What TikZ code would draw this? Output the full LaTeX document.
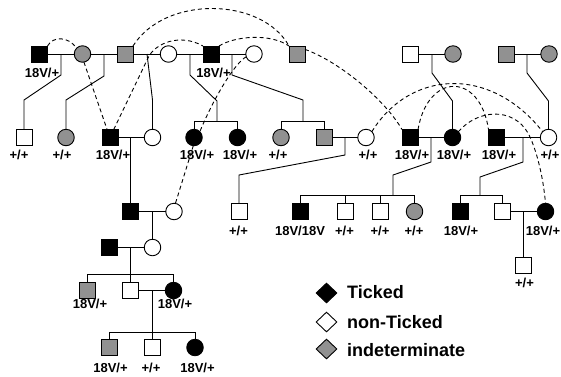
\documentclass[tikz,border=0pt]{standalone}
\usepackage{fontspec}
\setmainfont{Liberation Sans}
\usetikzlibrary{shapes.geometric}
\definecolor{ind}{gray}{0.57}
\tikzset{
  person/.style={draw=black,line width=0.9pt,inner sep=0pt,outer sep=0pt},
  male/.style={person,rectangle,minimum size=16pt},
  female/.style={person,circle,minimum size=16.5pt},
  aff/.style={fill=black},
  unaff/.style={fill=white},
  indet/.style={fill=ind},
  lbl/.style={font=\fontsize{13}{15}\selectfont\bfseries,anchor=base,inner sep=0pt},
  link/.style={line width=0.9pt},
  dlink/.style={line width=0.9pt,dash pattern=on 4pt off 3pt},
  keybox/.style={diamond,draw=black,line width=0.9pt,minimum width=21pt,minimum height=20pt,inner sep=0pt},
  keytext/.style={font=\fontsize{18}{20}\selectfont\bfseries,anchor=base west,inner sep=0pt}
}
\begin{document}
\begin{tikzpicture}[x=1pt,y=-1pt]
\useasboundingbox (0,0) rectangle (561,376);
% ---------- Generation I ----------
\node[male,aff]     (a1)  at (39.5,54) {};
\node[female,indet] (a2)  at (82.5,54) {};
\node[male,indet]   (a3)  at (125,54) {};
\node[female,unaff] (a4)  at (168.5,54) {};
\node[male,aff]     (a5)  at (211,54) {};
\node[female,unaff] (a6)  at (254,54) {};
\node[male,indet]   (a7)  at (297,54) {};
\node[male,unaff]   (a8)  at (410,54) {};
\node[female,indet] (a9)  at (453,54) {};
\node[male,indet]   (a10) at (506,54) {};
\node[female,indet] (a11) at (549,54) {};
% ---------- Generation II ----------
\node[male,unaff]   (b1)  at (24,137.5) {};
\node[female,indet] (b2)  at (66,137.5) {};
\node[male,aff]     (b3)  at (110,137.5) {};
\node[female,unaff] (b4)  at (152.5,137.5) {};
\node[female,aff]   (b5)  at (194,137.5) {};
\node[female,aff]   (b6)  at (237.5,137.5) {};
\node[female,indet] (b7)  at (281,137.5) {};
\node[male,indet]   (b8)  at (324,137.5) {};
\node[female,unaff] (b9)  at (366,137.5) {};
\node[male,aff]     (b10) at (410,137.5) {};
\node[female,aff]   (b11) at (452.5,137.5) {};
\node[male,aff]     (b12) at (496.5,137.5) {};
\node[female,unaff] (b13) at (548.5,137.5) {};
% ---------- Generation III ----------
\node[male,aff]     (c1)  at (130.5,211.5) {};
\node[female,unaff] (c2)  at (174,211.5) {};
\node[male,unaff]   (c3)  at (239,211.5) {};
\node[male,aff]     (c4)  at (300,211.5) {};
\node[male,unaff]   (c5)  at (345,211.5) {};
\node[male,unaff]   (c6)  at (380,211.5) {};
\node[female,indet] (c7)  at (414.5,211.5) {};
\node[male,aff]     (c8)  at (460.5,211.5) {};
\node[male,unaff]   (c9)  at (502,211.5) {};
\node[female,aff]   (c10) at (545.5,211.5) {};
% ---------- Generation IV ----------
\node[male,aff]     (d1)  at (109,247.5) {};
\node[female,unaff] (d2)  at (152.5,247.5) {};
\node[male,unaff]   (d3)  at (523.5,265.5) {};
% ---------- Generation V ----------
\node[male,indet]   (e1)  at (87,290.5) {};
\node[male,unaff]   (e2)  at (130.5,290.5) {};
\node[female,aff]   (e3)  at (173.5,290.5) {};
% ---------- Generation VI ----------
\node[male,indet]   (f1)  at (109,347.5) {};
\node[male,unaff]   (f2)  at (152,347.5) {};
\node[female,aff]   (f3)  at (195,347.5) {};

% ---------- marriage lines ----------
\draw[link] (a1)--(a2)--(a3)--(a4)--(a5)--(a6);
\draw[link] (a8)--(a9);
\draw[link] (a10)--(a11);
\draw[link] (b3)--(b4);
\draw[link] (b8)--(b9);
\draw[link] (b10)--(b11);
\draw[link] (b12)--(b13);
\draw[link] (c1)--(c2);
\draw[link] (c9)--(c10);
\draw[link] (d1)--(d2);
\draw[link] (e2)--(e3);

% ---------- descent points ----------
\coordinate (m1) at (61,54);
\coordinate (m2) at (104,54);
\coordinate (m3) at (147,54);
\coordinate (m4) at (190,54);
\coordinate (m5) at (232,54);
\coordinate (m6) at (432,54);
\coordinate (m7) at (527,54);
\coordinate (s1) at (217,121);
\coordinate (s2) at (303,121);
\coordinate (n1) at (130.5,137.5);
\coordinate (n2) at (345,137.5);
\coordinate (n3) at (431,137.5);
\coordinate (n4) at (523,137.5);
\coordinate (s3) at (393,195);
\coordinate (s4) at (480,195);
\coordinate (o1) at (152.5,211.5);
\coordinate (o2) at (523.5,211.5);
\coordinate (p1) at (130.5,247.5);
\coordinate (s5) at (130.5,274);
\coordinate (q1) at (152,290.5);
\coordinate (s6) at (152,332);

% ---------- descent lines ----------
\draw[link] (m1) -- (61,75) -- (24,100) -- (b1);
\draw[link] (m2) -- (104,76) -- (66,100) -- (b2);
\draw[link] (m3) -- (152.5,100) -- (b4);
\draw[link] (m4) -- (190,75) -- (217,101) -- (s1);
\draw[link] (b5) -- (b5 |- s1) -- (b6 |- s1) -- (b6);
\draw[link] (m5) -- (232,75) -- (303,100) -- (s2);
\draw[link] (b7) -- (b7 |- s2) -- (b8 |- s2) -- (b8);
\draw[link] (m6) -- (432,73) -- (452.5,101) -- (b11);
\draw[link] (m7) -- (527,73) -- (548.5,101) -- (b13);

\draw[link] (n1) -- (c1);
\draw[link] (n2) -- (345,155) -- (239,175) -- (c3);
\draw[link] (n3) -- (431,162) -- (393,175) -- (s3);
\draw[link] (c4) -- (c4 |- s3) -- (c7 |- s3) -- (c7);
\draw[link] (c5) -- (c5 |- s3);
\draw[link] (c6) -- (c6 |- s3);
\draw[link] (n4) -- (523,162) -- (480,177) -- (s4);
\draw[link] (c8) -- (c8 |- s4) -- (c9 |- s4) -- (c9);

\draw[link] (o1) -- (d2);
\draw[link] (o2) -- (d3);
\draw[link] (p1) -- (e2);
\draw[link] (e1) -- (e1 |- s5) -- (e3 |- s5) -- (e3);
\draw[link] (q1) -- (s6);
\draw[link] (f1) -- (f1 |- s6) -- (f3 |- s6) -- (f3);
\draw[link] (f2) -- (f2 |- s6);

% ---------- dashed links ----------
\draw[dlink] (a1.north east) .. controls (53,36) and (68,36) .. (a2.north west);
\draw[dlink] (a3.north east) .. controls (165,-5) and (262,-3) .. (a7.north west);
\draw[dlink] (b3.65) -- (148,58) .. controls (155,43) and (180,33) .. (a5.north west);
\draw[dlink] (a5.north east) .. controls (235,36) and (270,33) .. (a7.north west);
\draw[dlink] (a6.200) .. controls (236,62) and (215,95) .. (b5.north east);
\draw[dlink] (a2.280) -- (b3.110);
\draw[dlink] (b5.265) -- (c2.80);
\draw[dlink] (a7.30) .. controls (340,62) and (385,100) .. (b10.north west);
\draw[dlink] (b9.north east) .. controls (410,70) and (490,65) .. (b13.north west);
\draw[dlink] (b10.north east) .. controls (428,72) and (480,72) .. (b12.north west);
\draw[dlink] (b11.north east) .. controls (478,109) and (513,107) .. (528,133)
  .. controls (536,148) and (543,175) .. (c10.north);

% ---------- genotype labels ----------
\node[lbl] (la1) at (42,77) {18V/+};
\node[lbl] (la5) at (213.5,77) {18V/+};
\node[lbl] (lb1) at (19,159) {+/+};
\node[lbl] (lb2) at (62,159) {+/+};
\node[lbl] (lb3) at (113,159) {18V/+};
\node[lbl] (lb5) at (197,159) {18V/+};
\node[lbl] (lb6) at (240,159) {18V/+};
\node[lbl] (lb7) at (278,159) {+/+};
\node[lbl] (lb9) at (368,159) {+/+};
\node[lbl] (lb10) at (412,159) {18V/+};
\node[lbl] (lb11) at (454,159) {18V/+};
\node[lbl] (lb12) at (499,159) {18V/+};
\node[lbl] (lb13) at (550,159) {+/+};
\node[lbl] (lc3) at (238.5,235) {+/+};
\node[lbl] (lc4) at (300,235) {18V/18V};
\node[lbl] (lc5) at (344.5,235) {+/+};
\node[lbl] (lc6) at (380,235) {+/+};
\node[lbl] (lc7) at (414,235) {+/+};
\node[lbl] (lc8) at (461,235) {18V/+};
\node[lbl] (lc10) at (543,235) {18V/+};
\node[lbl] (ld3) at (524.5,287) {+/+};
\node[lbl] (le1) at (90,308) {18V/+};
\node[lbl] (le3) at (175,308) {18V/+};
\node[lbl] (lf1) at (110.5,372) {18V/+};
\node[lbl] (lf2) at (151,372) {+/+};
\node[lbl] (lf3) at (197.5,372) {18V/+};

% ---------- legend ----------
\node[keybox,fill=black] (k1) at (326.5,293) {};
\node[keybox,fill=white] (k2) at (326.5,322) {};
\node[keybox,fill=ind]   (k3) at (326.5,349) {};
\node[keytext] (t1) at (347,298.5) {Ticked};
\node[keytext] (t2) at (347,328) {non-Ticked};
\node[keytext] (t3) at (347,356.5) {indeterminate};
\end{tikzpicture}
\end{document}
